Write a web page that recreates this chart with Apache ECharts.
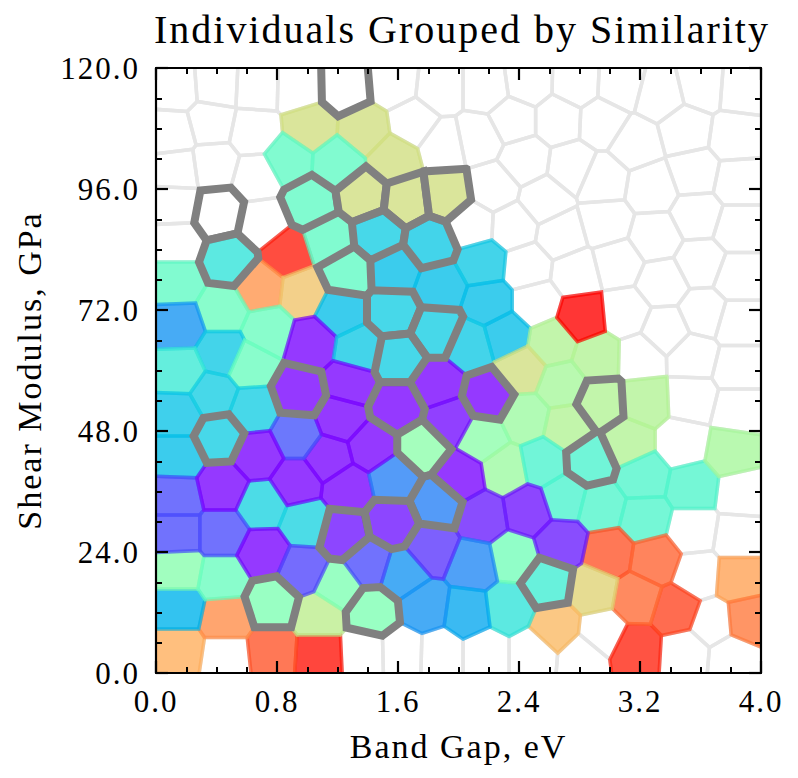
<!DOCTYPE html>
<html>
<head>
<meta charset="utf-8">
<style>html,body{margin:0;background:#fff}#chart{width:798px;height:778px}#chart text{letter-spacing:2px}</style>
<script src="https://cdn.jsdelivr.net/npm/echarts@6/dist/echarts.min.js"></script>
</head>
<body>
<div id="chart"></div>
<script>
const titleText = 'Individuals Grouped by Similarity';
const xName = 'Band Gap, eV';
const yName = 'Shear Modulus, GPa';
const xMax = 4, yMax = 120;

// cell centres: band gap, shear modulus
const emptyCells = [
  [.13,116],[.40,116.6],[.67,116.2],[.94,116],[1.57,117],[1.88,116],[2.18,116],[2.46,117.2],[2.78,117],[3.07,116.6],
  [3.33,114.6],[3.61,116.6],[3.87,116],[.11,107.1],[.36,109.1],[.65,107.3],[1.70,109.1],[1.90,104.7],[2.13,106.1],
  [2.36,109.7],[2.66,109.7],[2.95,109.3],[3.17,105.1],[3.50,107.7],[3.83,106.3],[2.44,101.7],[2.75,100.4],[2.95,97.8],
  [3.28,96.2],[3.56,99.2],[3.85,97.4],[2.23,96.2],[2.57,93.8],[2.97,89.3],[3.30,86.5],[3.58,90.8],[3.85,88.3],
  [2.36,88.5],[2.09,88.9],[2.68,86.9],[3.05,81.3],[2.78,79.3],[2.45,80.5],[3.35,77.4],[3.60,81.3],[3.85,78.5],
  [3.10,71.4],[3.37,68],[3.62,71.4],[3.85,69.4],[3.55,62.7],[3.85,60.5],[3.20,62.5],[3.48,45.6],[3.85,52.2],
  [3.87,35.7],[3.85,27],[3.55,28.4],[3.68,9.9],[3.81,3.2],[3.50,4],[3.58,19.4],[2.95,7.9],[2.82,3.2],[2.49,4],
  [2.18,4],[1.63,4.2],[1.37,4],[1.88,4],[.46,3.2],[.71,89.3],[.14,85.5],[.13,92.8],[.14,99.8],[.38,100.8],[.67,98.4],
  [2.51,73.4],[3.54,54.5]
];

// band gap, shear modulus, fitness (0-1)
const eliteCells = [
  [1.02,108.3,.66],[1.38,107.7,.66],[1.57,102.1,.66],[.87,101.7,.44],[1.20,101.2,.44],[.87,83.3,.96],[1.14,85.9,.44],
  [.69,76.4,.80],[.97,75.4,.72],[.14,77.5,.44],[.44,72,.46],[.74,68,.46],[.15,69,.2],[1.22,71.6,.27],[1.03,65.5,.01],
  [1.34,64.1,.29],[.44,63.5,.29],[.16,59.7,.37],[.62,61.1,.46],[.15,51.2,.28],[.15,42.8,.27],[.38,55.1,.3],[.64,52.2,.3],
  [1.88,76.6,.27],[2.16,81.3,.29],[2.20,73.4,.27],[2.31,67,.27],[2.08,65.1,.29],[1.58,79.9,.27],[2.62,65.5,.6],
  [2.92,62.7,.6],[2.82,70.6,.995],[2.42,60.1,.66],[2.68,57.1,.58],[3.23,54.1,.6],[3.12,45.6,.6],[2.72,48.8,.6],
  [2.44,50.6,.56],[2.16,46.6,.53],[2.31,40.3,.56],[2.56,41.7,.4],[2.01,38.9,.01],[2.70,34.7,.4],[2.94,32.9,.41],
  [3.22,38.9,.41],[3.55,36.9,.41],[3.23,30.7,.41],[3.81,43.8,.58],[3.85,18.8,.78],[3.91,10.5,.84],[3.17,4.6,.95],
  [3.44,12.5,.91],[3.18,14.9,.86],[2.99,23.8,.89],[3.30,22.4,.87],[2.89,16.5,.69],[2.64,8.9,.74],[2.33,12.9,.35],
  [2.36,23,.48],[2.68,25.8,.04],[2.46,32.3,.03],[2.16,30.9,.04],[2.10,21.4,.18],[2.06,11.9,.23],[1.08,3.6,.97],
  [.77,4.2,.89],[.15,4.6,.76],[.46,10.9,.81],[.15,12.9,.25],[.15,20.4,.52],[.44,18.8,.46],[1.08,11.5,.62],[1.20,17.1,.5],
  [1.78,13.1,.2],[1.63,19.8,.2],[1.41,21.8,.1],[1.82,24.8,.07],[.99,29.8,.31],[.70,33.3,.31],[.44,27.8,.1],[.14,27.8,.1],
  [.14,34.9,.1],[.44,36.9,.01],[.71,23.8,.01],[.97,20.4,.09],[.93,37.9,.01],[1.27,36.7,.01],[1.57,38.7,.17],[1.14,42.6,.01],
  [1.43,44.8,.01],[.93,47.2,.11],[1.22,50.6,.01],[1.28,57.5,.01],[1.86,57.1,.01],[1.94,50.2,.02],[.67,43.3,.01]
];

// grey outlined individuals, fitness null when the cell has no elite
const selectedCells = [
  [1.25,116.2,null],[.41,91.2,null],[.48,81.9,.35],[1.02,93.2,.44],[1.37,94.8,.66],[1.66,93.8,.66],[1.92,94.8,.66],
  [1.47,86.9,.3],[1.81,85.3,.29],[1.26,79.5,.44],[1.57,71.6,.3],[1.86,68,.3],[1.60,62.5,.3],[.95,55.5,.01],[1.60,52.8,.01],
  [2.20,54.7,.01],[.42,46.8,.3],[1.76,44.8,.53],[2.94,53.6,.6],[2.87,42.2,.4],[1.56,29.8,.03],[1.86,33.7,.17],
  [1.24,27.8,.03],[2.59,17.9,.38],[.77,13.9,.5],[1.43,12.1,.5]
];

const allCells = emptyCells.concat(eliteCells, selectedCells);

// voronoi cell of one centre, cut from a box a bit larger than the plot
function voronoiCell(cell) {
  const px = cell[0] / xMax, py = cell[1] / yMax;
  let poly = [[-0.03, -0.03], [1.03, -0.03], [1.03, 1.03], [-0.03, 1.03]];
  allCells.forEach(other => {
    if (other === cell) return;
    const qx = other[0] / xMax, qy = other[1] / yMax;
    const nx = qx - px, ny = qy - py;
    const c = (qx * qx + qy * qy - px * px - py * py) / 2;
    const out = [];
    for (let i = 0; i < poly.length; i++) {
      const a = poly[i], b = poly[(i + 1) % poly.length];
      const da = a[0] * nx + a[1] * ny - c, db = b[0] * nx + b[1] * ny - c;
      if (da <= 0) out.push(a);
      if (da * db < 0) {
        const t = da / (da - db);
        out.push([a[0] + (b[0] - a[0]) * t, a[1] + (b[1] - a[1]) * t]);
      }
    }
    poly = out;
  });
  return poly.map(p => [p[0] * xMax, p[1] * yMax]);
}

// matplotlib "rainbow"
function rainbow(v, alpha) {
  const r = Math.min(1, Math.abs(2 * v - 0.5));
  const g = Math.sin(Math.PI * v);
  const b = Math.cos(Math.PI * v / 2);
  return `rgba(${Math.round(r * 255)},${Math.round(g * 255)},${Math.round(b * 255)},${alpha})`;
}

function cellSeries(cells, styleOf) {
  return {
    type: 'custom',
    coordinateSystem: 'cartesian2d',
    xAxisIndex: 0,
    yAxisIndex: 0,
    clip: true,
    silent: true,
    data: cells.map(c => [c[0], c[1]]),
    renderItem(params, api) {
      const pts = voronoiCell(cells[params.dataIndex]).map(p => api.coord(p));
      return { type: 'polygon', shape: { points: pts }, style: styleOf(cells[params.dataIndex]) };
    }
  };
}

function axisBase(extra) {
  return Object.assign({
    type: 'value',
    min: 0,
    z: 10,
    axisLine: { show: true, onZero: false, lineStyle: { color: '#000', width: 2.2 } },
    axisTick: { show: true, inside: true, length: 12, lineStyle: { color: '#000', width: 2.2 } },
    minorTick: { show: true, splitNumber: 4, length: 6, lineStyle: { color: '#000', width: 2 } },
    splitLine: { show: false },
    minorSplitLine: { show: false }
  }, extra);
}

const fontName = '"Liberation Serif", serif';
const tickLabel = { color: '#000', fontFamily: fontName, fontSize: 31, formatter: v => v.toFixed(1) };

// svg renderer so the css letter-spacing reaches the text
const chart = echarts.init(document.getElementById('chart'), null, { renderer: 'svg' });
chart.setOption({
  animation: false,
  backgroundColor: '#fff',
  title: {
    text: titleText,
    left: 457,
    top: 4,
    textAlign: 'center',
    textStyle: { color: '#000', fontFamily: fontName, fontWeight: 'normal', fontSize: 40 }
  },
  grid: { left: 156, right: 37, top: 68, bottom: 105 },
  xAxis: [
    axisBase({
      position: 'bottom', max: xMax, interval: 0.8,
      axisLabel: Object.assign({ margin: 13, showMinLabel: true, showMaxLabel: true }, tickLabel),
      name: xName, nameLocation: 'middle', nameGap: 56,
      nameTextStyle: { color: '#000', fontFamily: fontName, fontSize: 34 }
    }),
    axisBase({ position: 'top', max: xMax, interval: 0.8, axisLabel: { show: false } })
  ],
  yAxis: [
    axisBase({
      position: 'left', max: yMax, interval: 24,
      axisLabel: Object.assign({ margin: 16, showMinLabel: true, showMaxLabel: true }, tickLabel),
      name: yName, nameLocation: 'middle', nameGap: 110,
      nameTextStyle: { color: '#000', fontFamily: fontName, fontSize: 34 }
    }),
    axisBase({ position: 'right', max: yMax, interval: 24, axisLabel: { show: false } })
  ],
  series: [
    cellSeries(emptyCells, () => ({ fill: 'none', stroke: '#e6e6e6', lineWidth: 3.5 })),
    cellSeries(eliteCells, c => ({ fill: rainbow(c[2], 0.8), stroke: rainbow(c[2], 0.7), lineWidth: 3.5 })),
    cellSeries(selectedCells, c => ({
      fill: c[2] === null ? 'none' : rainbow(c[2], 0.8),
      stroke: '#808080',
      lineWidth: 8
    }))
  ]
});
</script>
</body>
</html>
